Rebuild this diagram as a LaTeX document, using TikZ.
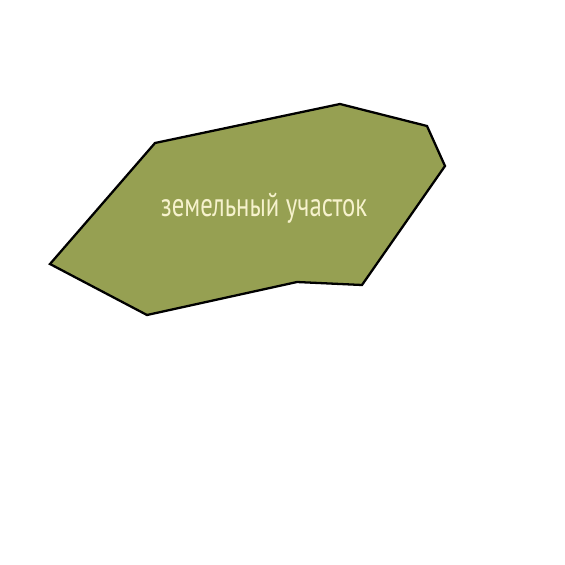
\documentclass[tikz,border=0pt]{standalone}
\usepackage{fontspec}
\setmainfont{PT Sans}
\usepackage{xcolor}
\definecolor{plotgreen}{RGB}{150,160,82}
\definecolor{labelcream}{RGB}{246,242,205}

\begin{document}
\begin{tikzpicture}[x=0.02cm,y=-0.02cm]
\useasboundingbox[fill=white] (0,0) rectangle (565,565);
\draw[line width=1.3pt, fill=plotgreen, line join=miter]
  (155,143)--(340,104)--(427,126)--(445,166)--(362,285)--(297,282)--(147,315)--(50,264)--cycle;
\node[text=labelcream, font=\fontsize{19}{22}\selectfont, xscale=0.74] (label) at (264,208) {земельный участок};
\end{tikzpicture}
\end{document}
